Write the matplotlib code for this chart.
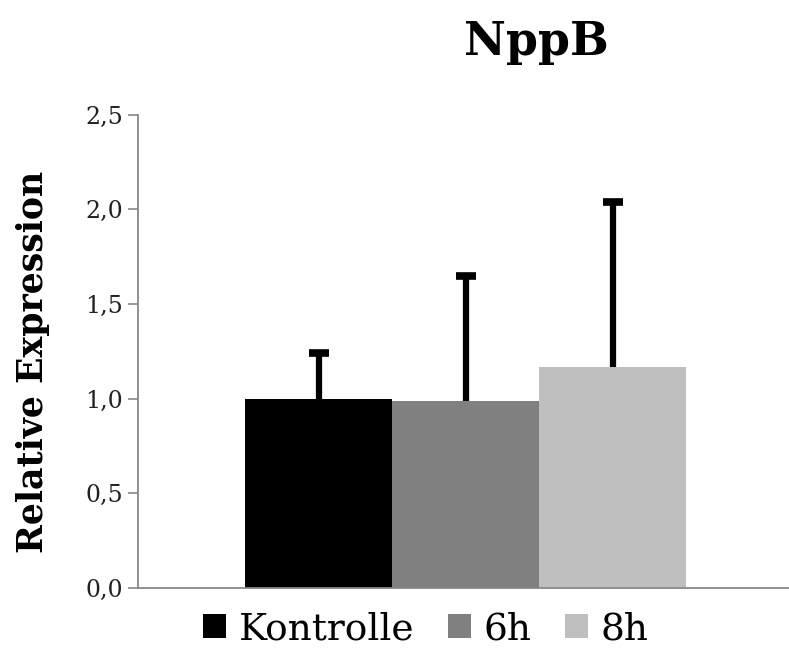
import matplotlib
matplotlib.use("Agg")
import matplotlib.pyplot as plt
from matplotlib.ticker import FuncFormatter
from matplotlib.patches import Patch

# Data
groups = ["Kontrolle", "6h", "8h"]
means = [1.00, 0.99, 1.17]
err_upper = [0.24, 0.66, 0.87]
colors = ["#000000", "#808080", "#bfbfbf"]

plt.rcParams["font.family"] = ["DejaVu Serif"]

fig = plt.figure(figsize=(7.89, 6.52), dpi=100)
ax = fig.add_axes([0.175, 0.098, 0.825, 0.726])

x = list(range(len(groups)))
ax.bar(x, means, width=1.0, color=colors, zorder=2)
eb = ax.errorbar(x, means, yerr=[[0] * len(groups), err_upper], fmt="none",
                 ecolor="black", elinewidth=4.5, capsize=7.5, capthick=5.5, zorder=1)
# only the upper caps are shown
eb[1][0].set_visible(False)

ax.set_xlim(-1.23, 3.2)
ax.set_ylim(0, 2.5)
ax.set_yticks([0, 0.5, 1.0, 1.5, 2.0, 2.5])
ax.yaxis.set_major_formatter(FuncFormatter(lambda v, p: f"{v:.1f}".replace(".", ",")))
ax.set_xticks([])
ax.tick_params(axis="y", labelsize=17, color="#888888", length=7, width=1.2,
               labelcolor="#222222", pad=4)

for s in ["top", "right"]:
    ax.spines[s].set_visible(False)
for s in ["left", "bottom"]:
    ax.spines[s].set_color("#888888")
    ax.spines[s].set_linewidth(1.3)

ax.set_ylabel("Relative Expression", fontsize=25, fontweight="bold")
ax.yaxis.set_label_coords(-0.135, 0.478)
fig.text(0.68, 0.935, "NppB", ha="center", va="center", fontsize=33, fontweight="bold")

handles = [Patch(facecolor=c, edgecolor="none") for c in colors]
fig.legend(handles, groups, loc="center", bbox_to_anchor=(0.54, 0.035), ncol=3,
           frameon=False, fontsize=27, handlelength=0.6, handleheight=0.6,
           handletextpad=0.35, columnspacing=0.9)

fig.savefig("out.png", dpi=100)
